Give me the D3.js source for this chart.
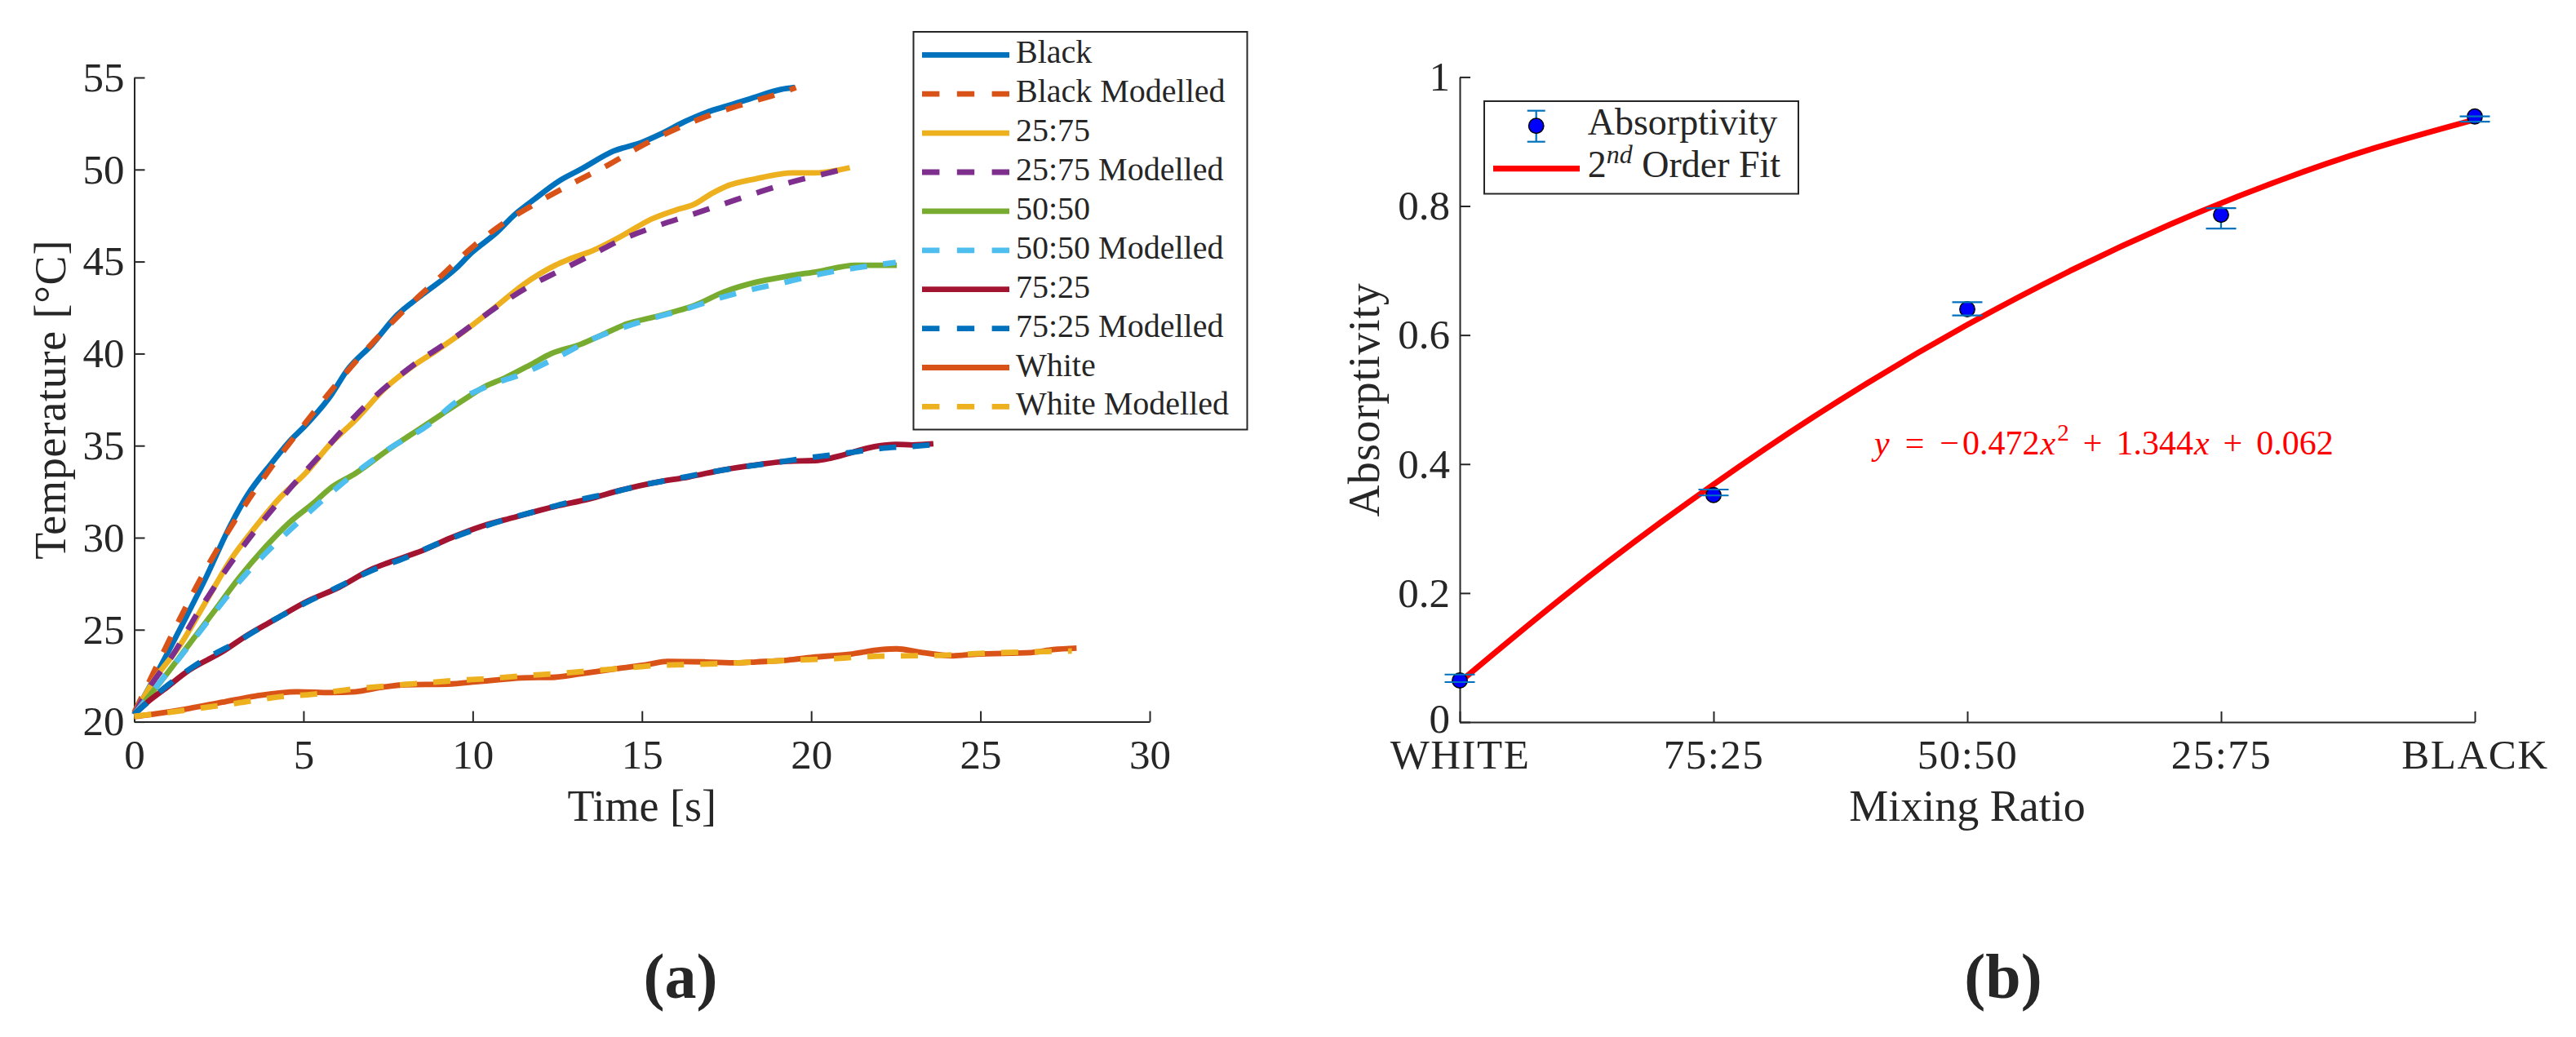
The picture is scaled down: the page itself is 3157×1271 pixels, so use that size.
<!DOCTYPE html>
<html>
<head>
<meta charset="utf-8">
<script src="https://cdn.jsdelivr.net/npm/d3@7/dist/d3.min.js"></script>
<style>
  body { margin: 0; background: #fff; }
  text, tspan { font-family: "Liberation Serif", "DejaVu Serif", serif; }
  text { fill: #262626; }
</style>
</head>
<body>
<svg id="chart" width="3157" height="1271"></svg>
<script>
// ---------------- DATA ----------------
// Panel (a): [time s, temperature °C]
const blackMeasured = [[0,20.4],[0.6,22.4],[1.37,25.1],[2.11,27.8],[2.85,30.7],[3.34,32.3],[4.08,34.1],[4.57,35.2],[5.06,36.1],[5.8,37.7],[6.29,39.1],[7.03,40.5],[7.77,42.1],[8.51,43.2],[9.49,44.6],[9.98,45.5],[10.72,46.6],[11.21,47.5],[11.83,48.4],[12.57,49.4],[13.18,50.0],[14.16,51.0],[15.03,51.5],[15.52,51.9],[16.26,52.6],[16.9,53.1],[17.6,53.5],[18.37,53.95],[19.1,54.35],[19.52,54.46]];
const blackModelled = [[0,20.5],[0.5,22.4],[1,24.3],[2,27.9],[3,31.0],[4,33.7],[5,36.1],[6,38.4],[7,40.5],[8,42.4],[9,44.1],[10,45.8],[11,47.2],[12,48.3],[13,49.3],[14,50.25],[15,51.3],[16,52.2],[17,52.95],[18,53.55],[19,54.1],[19.55,54.45]];
const mix2575Measured = [[0,20.4],[0.6,22.3],[1.37,24.2],[2.11,26.5],[2.85,28.8],[3.59,30.6],[4.32,32.2],[5.06,33.5],[5.8,35.1],[6.54,36.4],[7.4,38.1],[8.14,39.2],[8.88,40.1],[9.74,41.2],[10.72,42.6],[11.46,43.7],[12.44,44.8],[12.81,45.1],[13.55,45.6],[14.41,46.4],[15.27,47.3],[16.0,47.8],[16.53,48.1],[17.08,48.72],[17.45,49.06],[18.37,49.5],[19.48,49.82],[20.12,49.82],[21.14,50.1]];
const mix2575Modelled = [[0,20.4],[0.5,22.0],[1.13,23.6],[1.87,25.9],[2.73,28.3],[3.71,30.7],[4.57,32.6],[5.55,34.6],[6.79,37.1],[8.26,39.4],[9.49,40.9],[10.72,42.55],[11.71,43.7],[12.57,44.5],[13.55,45.4],[14.41,46.2],[15.39,46.9],[16.38,47.5],[17.36,48.1],[18.37,48.72],[19.38,49.3],[20.4,49.77],[21.14,50.1]];
const mix5050Measured = [[0,20.4],[0.88,22.4],[1.62,24.2],[2.36,26.0],[3.09,27.8],[3.83,29.4],[4.57,30.8],[5.31,31.9],[5.8,32.7],[6.54,33.5],[7.52,34.8],[8.26,35.7],[9.0,36.6],[9.74,37.5],[10.35,38.2],[10.97,38.7],[11.71,39.4],[12.32,40.0],[13.18,40.5],[13.8,41.0],[14.53,41.6],[15.39,42.0],[16.0,42.3],[16.53,42.6],[17.45,43.37],[18.37,43.88],[19.29,44.2],[20.2,44.46],[21.3,44.8],[22.53,44.8]];
const mix5050Modelled = [[0,20.4],[1.37,23.55],[3.34,28.1],[4.94,31.0],[6.05,32.8],[7.5,34.8],[8.75,36.2],[9.49,37.35],[10.48,38.26],[11.46,38.9],[12.5,39.8],[13.55,40.8],[14.41,41.4],[15.27,41.9],[16.26,42.4],[17.26,43.0],[18.28,43.5],[19.29,43.9],[20.2,44.3],[21.3,44.65],[22.5,44.95]];
const mix7525Measured = [[0,20.4],[0.39,21.06],[0.88,21.75],[1.62,22.8],[2.6,23.8],[3.34,24.7],[4.2,25.6],[5.06,26.5],[6.05,27.3],[7.03,28.3],[7.52,28.65],[8.51,29.3],[9.37,30.0],[10.23,30.6],[11.21,31.1],[12.44,31.7],[13.43,32.1],[14.41,32.6],[15.39,33.0],[16.38,33.3],[17.45,33.7],[18.37,33.95],[19.29,34.15],[20.2,34.2],[20.86,34.45],[21.87,34.95],[22.5,35.07],[22.98,35.04],[23.61,35.1]];
const mix7525Modelled = [[0,20.4],[1,22.0],[2,23.3],[3,24.3],[4,25.4],[5,26.4],[6,27.3],[7,28.2],[8,28.9],[9,29.7],[10,30.4],[11,31.0],[12,31.5],[13,32.0],[14,32.4],[15,32.85],[16,33.2],[17,33.55],[18,33.85],[19,34.1],[20,34.36],[21.04,34.6],[22.05,34.85],[23.07,34.97],[23.61,35.05]];
const whiteMeasured = [[0,20.27],[0.88,20.5],[1.62,20.72],[2.6,21.06],[3.59,21.4],[4.82,21.63],[5.8,21.58],[6.54,21.63],[7.28,21.86],[8.02,22.01],[9.25,22.04],[10.23,22.19],[11.46,22.38],[12.44,22.42],[13.18,22.6],[14.41,22.92],[15.15,23.1],[15.76,23.28],[16.87,23.25],[17.85,23.2],[18.37,23.25],[19.3,23.35],[20.03,23.5],[21.14,23.67],[22.07,23.92],[22.53,23.96],[23.17,23.79],[24.19,23.58],[24.84,23.67],[26.5,23.76],[27.15,23.92],[27.84,24.0]];
const whiteModelled = [[0,20.3],[1,20.5],[2,20.75],[3,21.0],[4.32,21.36],[5.3,21.5],[6.29,21.74],[7.5,21.95],[8.5,22.1],[9.49,22.24],[10.5,22.35],[11.5,22.5],[12.5,22.62],[13.43,22.76],[14.4,22.9],[15.39,23.05],[16.26,23.1],[17.49,23.17],[18.37,23.25],[19.5,23.35],[20.6,23.42],[21.7,23.54],[22.7,23.58],[23.73,23.6],[24.84,23.7],[26.68,23.8],[27.7,23.84]];

const seriesNames = ["Black","Black Modelled","25:75","25:75 Modelled","50:50","50:50 Modelled","75:25","75:25 Modelled","White","White Modelled"];
const seriesData = [blackMeasured, blackModelled, mix2575Measured, mix2575Modelled, mix5050Measured, mix5050Modelled, mix7525Measured, mix7525Modelled, whiteMeasured, whiteModelled];
const timeTicks = [0,5,10,15,20,25,30];
const tempTicks = [20,25,30,35,40,45,50,55];

// Panel (b)
const ratioPos = [0, 0.25, 0.5, 0.75, 1];
const ratioLabels = ["WHITE","75:25","50:50","25:75","BLACK"];
const absorptivity = [0.0645, 0.352, 0.640, 0.7864, 0.9389];
const absLow = [0.062, 0.3513, 0.6305, 0.7652, 0.9309];
const absHigh = [0.0737, 0.3605, 0.651, 0.7968, 0.9389];
const fitX = [0, 0.1, 0.2, 0.3, 0.4, 0.5, 0.6, 0.7, 0.8, 0.9, 1.0];
const fitY = [0.062, 0.1917, 0.3119, 0.4227, 0.5241, 0.616, 0.6985, 0.7715, 0.8351, 0.8893, 0.934];
const absTicks = [0, 0.2, 0.4, 0.6, 0.8, 1];

// ---------------- STYLES ----------------
const seriesStyle = [
  {color:"#0072BD", dash:false},{color:"#D95319", dash:true},
  {color:"#EDB120", dash:false},{color:"#7E2F8E", dash:true},
  {color:"#77AC30", dash:false},{color:"#4DBEEE", dash:true},
  {color:"#A2142F", dash:false},{color:"#0072BD", dash:true},
  {color:"#D95319", dash:false},{color:"#EDB120", dash:true}
];
const axisColor = "#262626";
const DASH = "21 20";
const LW = 6.8;
const SERIF = '"Liberation Serif", "DejaVu Serif", serif';

const svg = d3.select("#chart");
svg.append("rect").attr("width",3157).attr("height",1271).attr("fill","#fff");

function styleAxis(g, fs, ls) {
  g.select(".domain").attr("stroke", axisColor).attr("stroke-width", 2);
  g.selectAll(".tick line").attr("stroke", axisColor).attr("stroke-width", 2);
  g.selectAll(".tick text").attr("fill", axisColor).attr("font-size", fs)
    .attr("font-family", SERIF).attr("letter-spacing", ls || 0);
}

// ---------------- PANEL (a) ----------------
const xA = d3.scaleLinear().domain([0,30]).range([164.5,1409]);
const yA = d3.scaleLinear().domain([20,55]).range([884.6,95]);

const gxA = svg.append("g").attr("transform",`translate(0,${yA(20)})`)
  .call(d3.axisBottom(xA).tickValues(timeTicks).tickFormat(d3.format("d"))
    .tickSizeInner(-13).tickSizeOuter(0).tickPadding(21));
styleAxis(gxA, 51);
const gyA = svg.append("g").attr("transform",`translate(${xA(0)},0)`)
  .call(d3.axisLeft(yA).tickValues(tempTicks).tickFormat(d3.format("d"))
    .tickSizeInner(-13).tickSizeOuter(0).tickPadding(12));
styleAxis(gyA, 51);

const lineA = d3.line().x(d=>xA(d[0])).y(d=>yA(d[1])).curve(d3.curveMonotoneX);
seriesData.forEach((data,i)=>{
  svg.append("path").datum(data).attr("d", lineA)
    .attr("fill","none").attr("stroke", seriesStyle[i].color)
    .attr("stroke-width", LW).attr("stroke-linejoin","round")
    .attr("stroke-dasharray", seriesStyle[i].dash ? DASH : null);
});

svg.append("text").attr("transform",`translate(80,${(yA(20)+yA(55))/2}) rotate(-90)`)
  .attr("text-anchor","middle").attr("font-size",54).attr("letter-spacing",0.8).text("Temperature [°C]");
svg.append("text").attr("x",(xA(0)+xA(30))/2).attr("y",1006)
  .attr("text-anchor","middle").attr("font-size",54).text("Time [s]");

// legend (a)
const legA = svg.append("g");
legA.append("rect").attr("x",1119.5).attr("y",39).attr("width",409).attr("height",487.5)
  .attr("fill","#fff").attr("stroke",axisColor).attr("stroke-width",2);
seriesNames.forEach((name,i)=>{
  const yy = 67.3 + 47.9*i;
  legA.append("line").attr("x1",1130).attr("x2",1237).attr("y1",yy).attr("y2",yy)
    .attr("stroke", seriesStyle[i].color).attr("stroke-width", LW)
    .attr("stroke-dasharray", seriesStyle[i].dash ? "21.4 21.4" : null);
  legA.append("text").attr("x",1245).attr("y",yy+10).attr("font-size",40).attr("fill","#000").text(name);
});

svg.append("text").attr("x",834).attr("y",1223).attr("text-anchor","middle")
  .attr("font-size",78).attr("font-weight","bold").attr("fill","#000").text("(a)");

// ---------------- PANEL (b) ----------------
const xB = d3.scaleLinear().domain([0,1]).range([1789,3033]);
const yB = d3.scaleLinear().domain([0,1]).range([885,94.4]);

const gxB = svg.append("g").attr("transform",`translate(0,${yB(0)})`)
  .call(d3.axisBottom(xB).tickValues(ratioPos).tickFormat((d,i)=>ratioLabels[i])
    .tickSizeInner(-13).tickSizeOuter(0).tickPadding(21));
styleAxis(gxB, 51, 1.5);
const gyB = svg.append("g").attr("transform",`translate(${xB(0)},0)`)
  .call(d3.axisLeft(yB).tickValues(absTicks).tickFormat(d=>String(+d.toFixed(1)))
    .tickSizeInner(-13).tickSizeOuter(0).tickPadding(12));
styleAxis(gyB, 51);
// the "0" label sits slightly above the axis line, as in the reference
gyB.selectAll(".tick text").filter(d=>d===0).attr("dy","0.24em");

// error bars
const ebColor = "#0072BD";
const capHalf = 18.5;
ratioPos.forEach((p,i)=>{
  const cx = xB(p);
  svg.append("line").attr("x1",cx).attr("x2",cx).attr("y1",yB(absLow[i])).attr("y2",yB(absHigh[i]))
    .attr("stroke",ebColor).attr("stroke-width",2.2);
});
// fit curve
const fitPts = fitX.map((x,i)=>[x, fitY[i]]);
svg.append("path").datum(fitPts)
  .attr("d", d3.line().x(d=>xB(d[0])).y(d=>yB(d[1])).curve(d3.curveNatural))
  .attr("fill","none").attr("stroke","#FF0000").attr("stroke-width",7);
// markers
ratioPos.forEach((p,i)=>{
  svg.append("circle").attr("cx",xB(p)).attr("cy",yB(absorptivity[i])).attr("r",9.2)
    .attr("fill","#0000FF").attr("stroke","#000").attr("stroke-width",1.5);
});
// error caps on top
ratioPos.forEach((p,i)=>{
  const cx = xB(p);
  [absLow[i], absHigh[i]].forEach(v=>{
    svg.append("line").attr("x1",cx-capHalf).attr("x2",cx+capHalf).attr("y1",yB(v)).attr("y2",yB(v))
      .attr("stroke",ebColor).attr("stroke-width",2.2);
  });
});

svg.append("text").attr("transform",`translate(1690,${(yB(0)+yB(1))/2}) rotate(-90)`)
  .attr("text-anchor","middle").attr("font-size",54).attr("letter-spacing",1.2).text("Absorptivity");
svg.append("text").attr("x",(xB(0)+xB(1))/2).attr("y",1006)
  .attr("text-anchor","middle").attr("font-size",54).text("Mixing Ratio");

// equation
const eq = svg.append("text").attr("x",2297).attr("y",557).attr("font-size",42)
  .style("font-family", SERIF).style("fill","#FF0000");
const eqParts = [
  {t:"y", it:true, dx:0},
  {t:"=", dx:19},
  {t:"\u2212", dx:19},
  {t:"0.472", dx:4},
  {t:"x", it:true, dx:1},
  {t:"2", sup:true, dx:2},
  {t:"+", dx:17, down:true},
  {t:"1.344", dx:17},
  {t:"x", it:true, dx:1},
  {t:"+", dx:17},
  {t:"0.062", dx:17}
];
eqParts.forEach(p=>{
  const ts = eq.append("tspan").attr("dx", p.dx).text(p.t)
    .style("font-family", SERIF).style("fill","#FF0000");
  if (p.it) ts.style("font-style","italic");
  if (p.sup) ts.attr("font-size",29).attr("dy",-17);
  if (p.down) ts.attr("dy",17);
});

// legend (b)
const legB = svg.append("g");
legB.append("rect").attr("x",1819).attr("y",124).attr("width",385).attr("height",113.5)
  .attr("fill","#fff").attr("stroke",axisColor).attr("stroke-width",2);
legB.append("line").attr("x1",1882.7).attr("x2",1882.7).attr("y1",135.7).attr("y2",173.7)
  .attr("stroke",ebColor).attr("stroke-width",2.2);
legB.append("circle").attr("cx",1882.7).attr("cy",154.3).attr("r",9.2)
  .attr("fill","#0000FF").attr("stroke","#000").attr("stroke-width",1.5);
[135.7,173.7].forEach(v=>legB.append("line").attr("x1",1882.7-11).attr("x2",1882.7+11)
  .attr("y1",v).attr("y2",v).attr("stroke",ebColor).attr("stroke-width",2.2));
legB.append("text").attr("x",1945.7).attr("y",165).attr("font-size",46).attr("fill","#000").text("Absorptivity");
legB.append("line").attr("x1",1830).attr("x2",1936).attr("y1",206.7).attr("y2",206.7)
  .attr("stroke","#FF0000").attr("stroke-width",7.3);
const l2 = legB.append("text").attr("x",1945.7).attr("y",217).attr("font-size",46).attr("fill","#000");
l2.append("tspan").text("2");
l2.append("tspan").attr("font-size",32).attr("font-style","italic").attr("dy",-17).text("nd");
l2.append("tspan").attr("dy",17).text(" Order Fit");

svg.append("text").attr("x",2455).attr("y",1223).attr("text-anchor","middle")
  .attr("font-size",78).attr("font-weight","bold").attr("fill","#000").text("(b)");
</script>
</body>
</html>
